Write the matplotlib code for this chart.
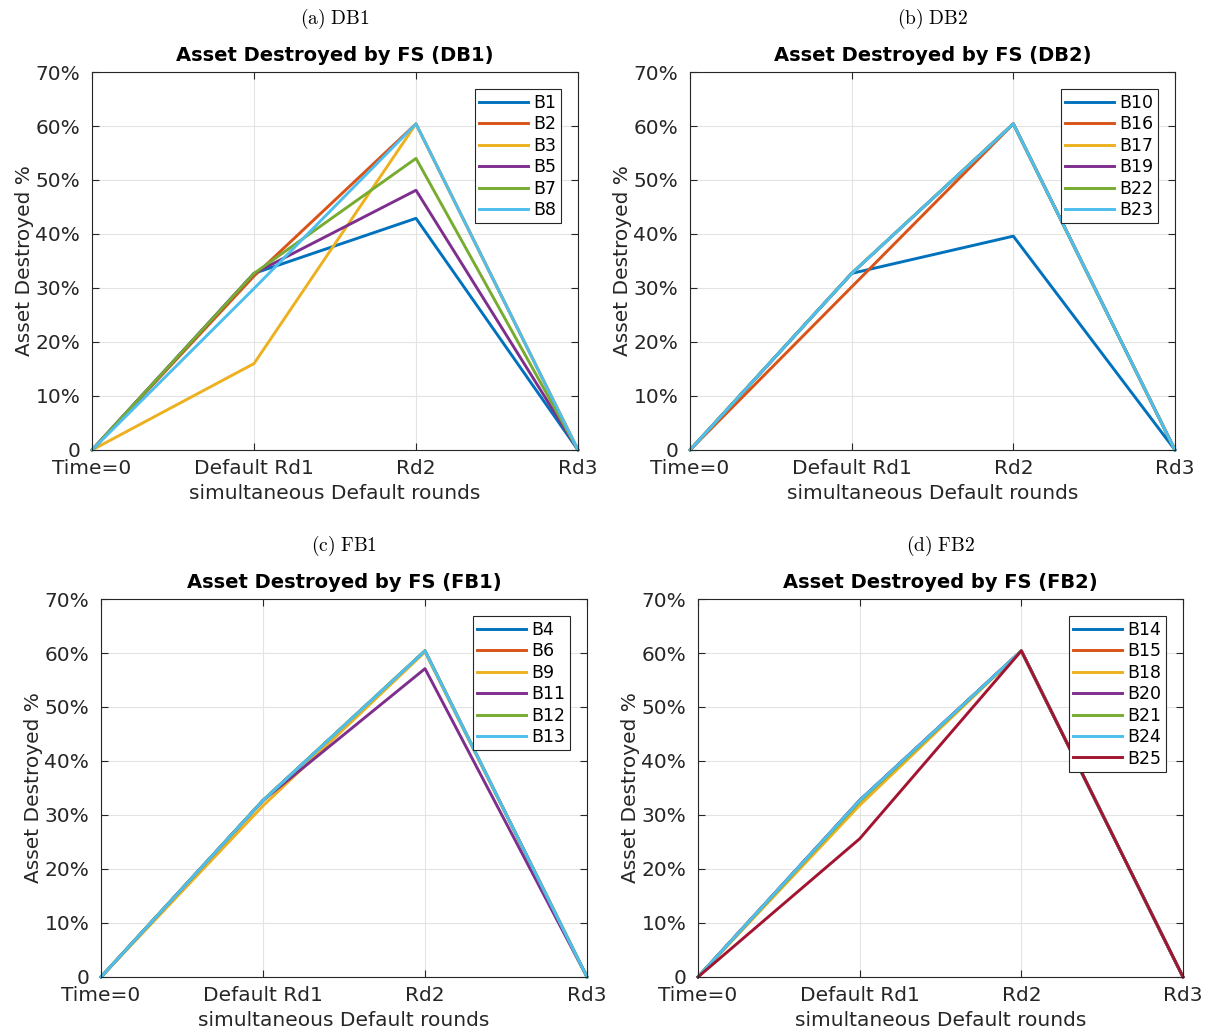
import numpy as np
import matplotlib
matplotlib.use('Agg')
import matplotlib.pyplot as plt

# MATLAB default colour order
colors = ['#0072BD', '#D95319', '#EDB120', '#7E2F8E', '#77AC30', '#4DBEEE', '#A2142F']

rounds = ['Time=0', 'Default Rd1', 'Rd2', 'Rd3']

# panel (a) DB1
names_a = ['B1', 'B2', 'B3', 'B5', 'B7', 'B8']
vals_a = [[0, 32.7, 42.9, 0],
          [0, 32.2, 60.4, 0],
          [0, 16.0, 60.4, 0],
          [0, 32.7, 48.1, 0],
          [0, 32.7, 54.0, 0],
          [0, 29.9, 60.4, 0]]

# panel (b) DB2
names_b = ['B10', 'B16', 'B17', 'B19', 'B22', 'B23']
vals_b = [[0, 32.7, 39.6, 0],
          [0, 30.2, 60.4, 0],
          [0, 32.7, 60.4, 0],
          [0, 32.7, 60.4, 0],
          [0, 32.7, 60.4, 0],
          [0, 32.7, 60.4, 0]]

# panel (c) FB1
names_c = ['B4', 'B6', 'B9', 'B11', 'B12', 'B13']
vals_c = [[0, 32.7, 60.4, 0],
          [0, 32.7, 60.4, 0],
          [0, 31.7, 60.2, 0],
          [0, 32.7, 57.1, 0],
          [0, 32.7, 60.4, 0],
          [0, 32.7, 60.4, 0]]

# panel (d) FB2
names_d = ['B14', 'B15', 'B18', 'B20', 'B21', 'B24', 'B25']
vals_d = [[0, 32.7, 60.4, 0],
          [0, 32.7, 60.4, 0],
          [0, 31.8, 60.4, 0],
          [0, 32.7, 60.4, 0],
          [0, 32.5, 60.4, 0],
          [0, 32.7, 60.4, 0],
          [0, 25.6, 60.4, 0]]

panels = [('(a)', 'DB1', names_a, vals_a),
          ('(b)', 'DB2', names_b, vals_b),
          ('(c)', 'FB1', names_c, vals_c),
          ('(d)', 'FB2', names_d, vals_d)]

W, H = 1213, 1035
# axes boxes in pixels: left, top, right, bottom
boxes = [(92, 72, 578, 450),
         (690, 72, 1175, 450),
         (101, 599, 587, 977),
         (698, 599, 1183, 977)]

plt.rcParams['font.family'] = ['DejaVu Sans']
txt = '#262626'

fig = plt.figure(figsize=(W / 100, H / 100), dpi=100)

for (tag, name, names, vals), (l, t, r, b) in zip(panels, boxes):
    ax = fig.add_axes([l / W, 1 - b / H, (r - l) / W, (b - t) / H])
    x = np.arange(len(rounds))
    for i, (n, v) in enumerate(zip(names, vals)):
        ax.plot(x, v, color=colors[i], linewidth=2.1, label=n, clip_on=False)
    ax.set_xlim(0, 3)
    ax.set_ylim(0, 70)
    ax.set_xticks(x)
    ax.set_xticklabels(rounds)
    yt = np.arange(0, 71, 10)
    ax.set_yticks(yt)
    ax.set_yticklabels(['0'] + ['%d%%' % v for v in yt[1:]])
    ax.tick_params(direction='in', top=True, right=True, length=5, width=0.8,
                   labelsize=14.5, colors=txt)
    ax.tick_params(axis='x', pad=6.5)
    ax.tick_params(axis='y', pad=8.5)
    ax.grid(True, color='#e3e3e3', linewidth=0.8)
    for s in ax.spines.values():
        s.set_color(txt)
        s.set_linewidth(0.8)
    ax.set_xlabel('simultaneous Default rounds', fontsize=14.5, color=txt, labelpad=4)
    ax.set_ylabel('Asset Destroyed %', fontsize=14.5, color=txt, labelpad=1)
    ax.set_title('Asset Destroyed by FS (%s)' % name, fontsize=14, fontweight='bold',
                 color='black', pad=8)
    leg = ax.legend(loc='upper right', fontsize=12.5, handlelength=2.8, handletextpad=0.3,
                    borderpad=0.25, labelspacing=0.2, fancybox=False, framealpha=1,
                    borderaxespad=1.0)
    leg.get_frame().set_edgecolor(txt)
    leg.get_frame().set_linewidth(0.8)
    fig.text((l + r) / 2 / W, 1 - (t - 53) / H, r'$\mathrm{%s\ %s}$' % (tag, name),
             ha='center', va='center', fontsize=14, math_fontfamily='cm', color='black')

fig.savefig('out.png', dpi=100)
